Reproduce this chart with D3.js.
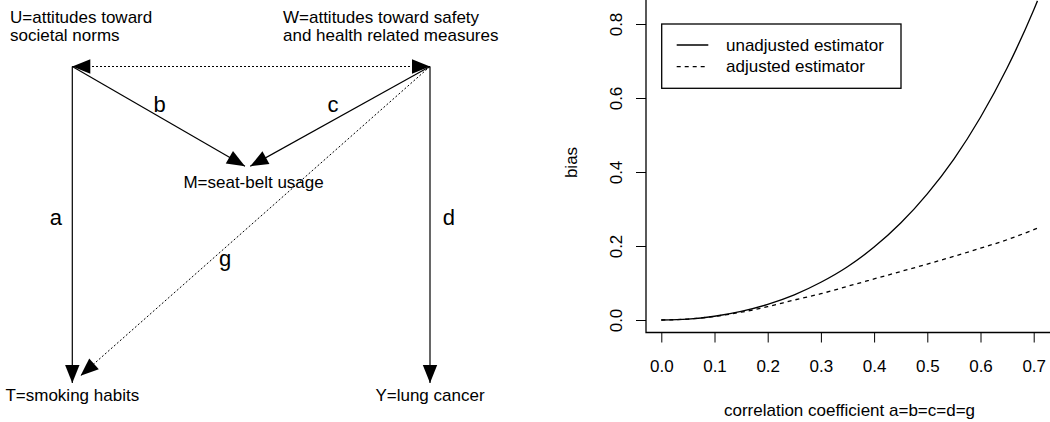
<!DOCTYPE html>
<html>
<head>
<meta charset="utf-8">
<script src="https://cdn.jsdelivr.net/npm/d3@7"></script>
<style>
  html, body { margin: 0; padding: 0; background: #fff; }
  svg { display: block; font-family: "Liberation Sans", Arial, Helvetica, sans-serif; }
</style>
</head>
<body>
<svg id="chart" width="1050" height="422"></svg>
<script>
// ---------------- Data ----------------
// Causal diagram: nodes (unit layout space) and edges
const nodeNames = ["U", "W", "M", "T", "Y"];
const nodeLabelLines = [
  ["U=attitudes toward", "societal norms"],
  ["W=attitudes toward safety", "and health related measures"],
  ["M=seat-belt usage"],
  ["T=smoking habits"],
  ["Y=lung cancer"]
];
const nodeUX = [0, 1, 0.49, 0, 1];
const nodeUY = [1, 1, 0.68, 0, 0];

const edgeFrom   = ["U", "W", "U", "W", "W", "W"];
const edgeTo     = ["T", "Y", "M", "M", "T", "U"];
const edgeLabel  = ["a", "d", "b", "c", "g", ""];
const edgeDotted = [false, false, false, false, true, true];
const edgeBoth   = [false, false, false, false, false, true];

// Bias curves
const rho = [0, 0.05, 0.10, 0.15, 0.20, 0.25, 0.30, 0.35, 0.40, 0.45, 0.50, 0.55, 0.60, 0.65, 0.70, 0.7071];
const biasUnadjusted = [0, 0.0025, 0.0101, 0.0232, 0.0423, 0.068, 0.102, 0.144, 0.197, 0.262, 0.341, 0.435, 0.548, 0.681, 0.838, 0.8625];
const biasAdjusted   = [0, 0.0025, 0.0098, 0.021, 0.036, 0.054, 0.071, 0.091, 0.111, 0.131, 0.151, 0.172, 0.194, 0.217, 0.244, 0.248];

const xTicks = [0, 0.1, 0.2, 0.3, 0.4, 0.5, 0.6, 0.7];
const yTicks = [0, 0.2, 0.4, 0.6, 0.8];
const seriesNames = ["unadjusted estimator", "adjusted estimator"];

// ---------------- Drawing ----------------
const svg = d3.select("#chart");
const FS = 17;

// ---- Left: diagram ----
const dx = d3.scaleLinear().domain([0, 1]).range([72.3, 430]);
const dy = d3.scaleLinear().domain([0, 1]).range([383, 66.5]);
const pos = {};
nodeNames.forEach((n, i) => pos[n] = [dx(nodeUX[i]), dy(nodeUY[i])]);

const diag = svg.append("g");

function head(tip, dir, len, hw) {
  const [ux, uy] = dir;
  const bx = tip[0] - ux * len, by = tip[1] - uy * len;
  const px = -uy, py = ux;
  return `M${tip[0]},${tip[1]}L${bx + px * hw},${by + py * hw}L${bx - px * hw},${by - py * hw}Z`;
}

edgeFrom.forEach((f, i) => {
  const t = edgeTo[i];
  let p0 = pos[f].slice(), p1 = pos[t].slice();
  let vx = p1[0] - p0[0], vy = p1[1] - p0[1];
  const L = Math.hypot(vx, vy);
  const u = [vx / L, vy / L];
  let gap = 0;
  if (t === "M") gap = 3;
  if (f === "W" && t === "T") gap = 11;
  p1 = [p1[0] - u[0] * gap, p1[1] - u[1] * gap];
  diag.append("line")
    .attr("x1", p0[0]).attr("y1", p0[1]).attr("x2", p1[0]).attr("y2", p1[1])
    .attr("stroke", "#000").attr("stroke-width", edgeDotted[i] ? 1 : 1.2)
    .attr("stroke-dasharray", edgeDotted[i] ? "2,2" : null);
  diag.append("path").attr("d", head(p1, u, 18, 7.2)).attr("fill", "#000");
  if (edgeBoth[i]) diag.append("path").attr("d", head(p0, [-u[0], -u[1]], 18, 7.2)).attr("fill", "#000");
});

// edge labels
const edgeLabelUX = [-0.046, 1.053, 0.244, 0.729, 0.427, 0];
const edgeLabelUY = [0.499, 0.499, 0.856, 0.856, 0.37, 0];
edgeLabel.forEach((l, i) => {
  if (!l) return;
  diag.append("text").attr("x", dx(edgeLabelUX[i])).attr("y", dy(edgeLabelUY[i]))
    .attr("text-anchor", "middle").attr("font-size", 22).attr("fill", "#000").text(l);
});

// node labels
const nodeTextX = { U: 10, W: 283 };
nodeNames.forEach((n, i) => {
  const lines = nodeLabelLines[i];
  if (n === "U" || n === "W") {
    lines.forEach((s, k) => diag.append("text").attr("x", nodeTextX[n]).attr("y", 22.5 + k * 18)
      .attr("font-size", FS).attr("fill", "#000").text(s));
  } else if (n === "M") {
    diag.append("text").attr("x", pos[n][0] + 6).attr("y", 188)
      .attr("text-anchor", "middle").attr("font-size", FS).attr("fill", "#000").text(lines[0]);
  } else {
    diag.append("text").attr("x", pos[n][0]).attr("y", 401)
      .attr("text-anchor", "middle").attr("font-size", FS).attr("fill", "#000").text(lines[0]);
  }
});

// ---- Right: plot ----
const x = d3.scaleLinear().domain([0, 0.7]).range([661.3, 1033.7]);
const y = d3.scaleLinear().domain([0, 0.8]).range([320, 24]);
const plot = svg.append("g");

// L-shaped box
plot.append("path").attr("d", `M646,-5L646,332.5L1055,332.5`)
  .attr("fill", "none").attr("stroke", "#000").attr("stroke-width", 1.3);

// x axis
const xAxis = d3.axisBottom(x).tickValues(xTicks).tickFormat(d3.format(".1f")).tickSizeInner(10).tickSizeOuter(0);
const gx = plot.append("g").attr("transform", "translate(0,332.5)").call(xAxis);
gx.select(".domain").remove();
gx.selectAll(".tick line").attr("stroke", "#000");
gx.selectAll(".tick text").attr("font-size", FS).attr("fill", "#000")
  .attr("font-family", null).attr("dy", null).attr("y", 39.5);

// y axis
const yAxis = d3.axisLeft(y).tickValues(yTicks).tickFormat(d3.format(".1f")).tickSizeInner(10).tickSizeOuter(0);
const gy = plot.append("g").attr("transform", "translate(646,0)").call(yAxis);
gy.select(".domain").remove();
gy.selectAll(".tick line").attr("stroke", "#000");
gy.selectAll(".tick text").attr("font-size", FS).attr("fill", "#000")
  .attr("font-family", null).attr("x", null).attr("dy", null)
  .attr("text-anchor", "middle").attr("transform", "translate(-24.5,0) rotate(-90)");

// axis titles
plot.append("text").attr("x", 849.5).attr("y", 415.5).attr("text-anchor", "middle")
  .attr("font-size", FS).attr("fill", "#000").text("correlation coefficient a=b=c=d=g");
plot.append("text").attr("transform", "translate(576.5,162.5) rotate(-90)").attr("text-anchor", "middle")
  .attr("font-size", FS).attr("fill", "#000").text("bias");

// curves
const line = d3.line().x(d => x(d[0])).y(d => y(d[1])).curve(d3.curveMonotoneX);
plot.append("path").datum(rho.map((r, i) => [r, biasUnadjusted[i]]))
  .attr("d", line).attr("fill", "none").attr("stroke", "#000").attr("stroke-width", 1.3);
plot.append("path").datum(rho.map((r, i) => [r, biasAdjusted[i]]))
  .attr("d", line).attr("fill", "none").attr("stroke", "#000").attr("stroke-width", 1.3)
  .attr("stroke-dasharray", "4,4");

// legend
const lg = plot.append("g");
lg.append("rect").attr("x", 661.7).attr("y", 24).attr("width", 239.3).attr("height", 64.3)
  .attr("fill", "none").attr("stroke", "#000").attr("stroke-width", 1.3);
seriesNames.forEach((s, i) => {
  const yy = 45 + i * 21.7;
  lg.append("line").attr("x1", 676.7).attr("x2", 708.3).attr("y1", yy).attr("y2", yy)
    .attr("stroke", "#000").attr("stroke-width", 1.3).attr("stroke-dasharray", i ? "4,4" : null);
  lg.append("text").attr("x", 726).attr("y", yy + 5.5).attr("font-size", FS).attr("fill", "#000").text(s);
});
</script>
</body>
</html>
